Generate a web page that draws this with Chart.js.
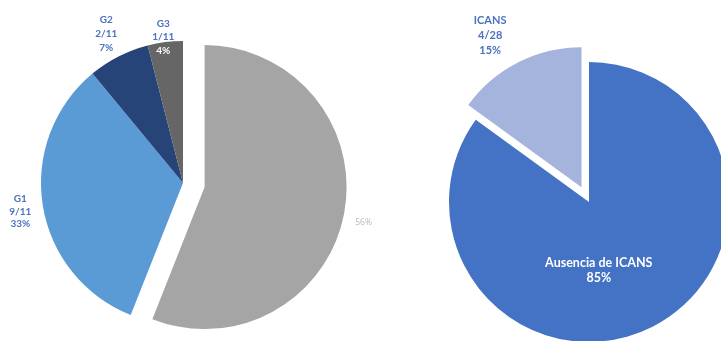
<!DOCTYPE html>
<html lang="es">
<head>
    <meta charset="UTF-8">
    <title>Toxicidad neurológica</title>
    <script src="https://cdn.jsdelivr.net/npm/chart.js"></script>
    <style>
        html, body { margin: 0; padding: 0; background: #fff; overflow: hidden; width: 721px; height: 341px; }
        .wrap { position: relative; width: 721px; height: 341px; }
        canvas { position: absolute; }
        #gradeChart { left: -37px; top: 0; }
        #icansChart { left: 439px; top: 0; }
    </style>
</head>
<body>
<div class="wrap">
    <canvas id="gradeChart" width="440" height="366"></canvas>
    <canvas id="icansChart" width="300" height="404"></canvas>
</div>
<script>
// Left pie: ICANS grade
const gradeLabels = ['Sin ICANS', 'G1', 'G2', 'G3'];
const gradeValues = [56, 33, 7, 4];
const gradeFractions = ['', '9/11', '2/11', '1/11'];
const gradeColors = ['#a5a5a5', '#5b9bd5', '#264478', '#666666'];

// Right pie: ICANS presence
const icansLabels = ['Ausencia de ICANS', 'ICANS'];
const icansValues = [85, 15];
const icansFractions = ['', '4/28'];
const icansColors = ['#4472c4', '#a5b4dd'];

const labelBlue = '#4a72c0';

// pulls one slice out along its mid angle (plain shift, the radius stays the same)
const explode = {
    id: 'explode',
    afterDatasetUpdate(chart, args, opts) {
        const arc = args.meta.data[opts.index];
        if (!arc) return;
        const mid = (arc.startAngle + arc.endAngle) / 2;
        arc.x += Math.cos(mid) * opts.distance;
        arc.y += Math.sin(mid) * opts.distance;
    }
};

// draws the text for each slice, placed along the slice's mid angle
const sliceLabels = {
    id: 'sliceLabels',
    afterDatasetsDraw(chart, args, opts) {
        const ctx = chart.ctx;
        const meta = chart.getDatasetMeta(0);
        meta.data.forEach((arc, i) => {
            const spec = opts.items[i];
            if (!spec) return;
            const p = arc.getProps(['x', 'y', 'startAngle', 'endAngle', 'outerRadius']);
            const mid = (p.startAngle + p.endAngle) / 2;
            const r = p.outerRadius * spec.factor;
            const x = p.x + Math.cos(mid) * r + (spec.dx || 0);
            const y = p.y + Math.sin(mid) * r + (spec.dy || 0);
            ctx.save();
            ctx.font = spec.font;
            ctx.textAlign = 'center';
            ctx.textBaseline = 'middle';
            const lines = spec.lines;
            const top = y - (lines.length - 1) * spec.lh / 2;
            lines.forEach((ln, k) => {
                ctx.fillStyle = spec.colors[k];
                ctx.fillText(ln, x, top + k * spec.lh);
            });
            ctx.restore();
        });
    }
};

const pct = v => v + '%';

new Chart(document.getElementById('gradeChart').getContext('2d'), {
    type: 'pie',
    data: {
        labels: gradeLabels,
        datasets: [{
            data: gradeValues,
            backgroundColor: gradeColors,
            borderWidth: 0
        }]
    },
    options: {
        responsive: false,
        animation: false,
        events: [],
        devicePixelRatio: 1,
        radius: 142,
        plugins: {
            legend: { display: false },
            tooltip: { enabled: false },
            explode: { index: 0, distance: 22 },
            sliceLabels: {
                items: [
                    { lines: [pct(gradeValues[0])], colors: ['#b8b8b8'], font: '8.5px "Open Sans"', lh: 10, factor: 1.14, dy: 5 },
                    { lines: [gradeLabels[1], gradeFractions[1], pct(gradeValues[1])], colors: [labelBlue, labelBlue, labelBlue], font: 'bold 10px Lato', lh: 12.5, factor: 1.16, dy: 3 },
                    { lines: [gradeLabels[2], gradeFractions[2], pct(gradeValues[2])], colors: [labelBlue, labelBlue, labelBlue], font: 'bold 10px Lato', lh: 14, factor: 1.19, dy: 1 },
                    { lines: [gradeLabels[3], gradeFractions[3], pct(gradeValues[3])], colors: [labelBlue, labelBlue, '#ffffff'], font: 'bold 10px Lato', lh: 13.5, factor: 1.05, dx: -1, dy: 2 }
                ]
            }
        }
    },
    plugins: [explode, sliceLabels]
});

new Chart(document.getElementById('icansChart').getContext('2d'), {
    type: 'pie',
    data: {
        labels: icansLabels,
        datasets: [{
            data: icansValues,
            backgroundColor: icansColors,
            borderWidth: 0
        }]
    },
    options: {
        responsive: false,
        animation: false,
        events: [],
        devicePixelRatio: 1,
        radius: 140,
        plugins: {
            legend: { display: false },
            tooltip: { enabled: false },
            explode: { index: 1, distance: 16.5 },
            sliceLabels: {
                items: [
                    { lines: [icansLabels[0], pct(icansValues[0])], colors: ['#ffffff', '#ffffff'], font: 'bold 12.5px Lato', lh: 15, factor: 0.5, dx: -22, dy: 6 },
                    { lines: [icansLabels[1], icansFractions[1], pct(icansValues[1])], colors: [labelBlue, labelBlue, labelBlue], font: 'bold 11px Lato', lh: 15, factor: 1.28, dx: -10, dy: 8 }
                ]
            }
        }
    },
    plugins: [explode, sliceLabels]
});
</script>
</body>
</html>
